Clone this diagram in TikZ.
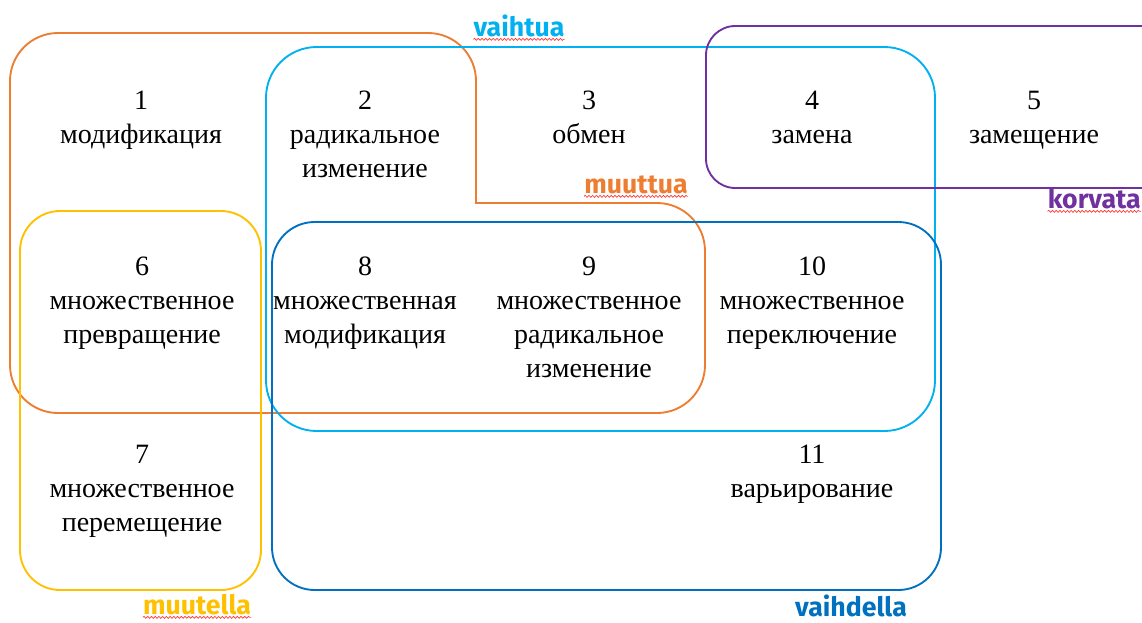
\documentclass[tikz,border=0pt]{standalone}
\usepackage{fontspec}
\setmainfont{Liberation Serif}
\newfontfamily\labelfont{Fira Sans}
\usetikzlibrary{decorations.pathmorphing}
\definecolor{corange}{HTML}{ED7D31}
\definecolor{ccyan}{HTML}{00B0F0}
\definecolor{cpurple}{HTML}{7030A0}
\definecolor{cyellow}{HTML}{FFC000}
\definecolor{cblue}{HTML}{0070C0}
\begin{document}
\begin{tikzpicture}[x=0.75pt,y=-0.75pt,
  term/.style={align=center, font=\fontsize{21}{25.5}\selectfont, anchor=north, inner sep=0pt},
  lab/.style={font=\labelfont\bfseries\fontsize{20}{22}\selectfont, anchor=base, inner sep=0pt},
  frame/.style={line width=1.4pt},
  wavy/.style={draw=red!80, line width=0.5pt, decorate, decoration={snake, amplitude=0.75pt, segment length=2.8pt}}]
\useasboundingbox (0,0) rectangle (1142,622);
\clip (0,0) rectangle (1142,622);
% frames
\draw[frame, corange, rounded corners=36, line cap=rect] (476,203) -- (705,203) -- (705,413) -- (10,413) -- (10,33) -- (476,33) -- (476,203);
\draw[frame, ccyan, rounded corners=38] (266,47) rectangle (935,431);
\draw[frame, cpurple, rounded corners=22] (706,26) rectangle (1200,188);
\draw[frame, cyellow, rounded corners=30] (20,211) rectangle (261,590);
\draw[frame, cblue, rounded corners=32] (272,222) rectangle (941,590);
% terms
\node[term] (n1) at (141,91) {1\\модификация};
\node[term] (n2) at (365,91) {2\\радикальное\\изменение};
\node[term] (n3) at (589,91) {3\\обмен};
\node[term] (n4) at (812,91) {4\\замена};
\node[term] (n5) at (1034,91) {5\\замещение};
\node[term] (n6) at (142,257) {6\\множественное\\превращение};
\node[term] (n8) at (365,257) {8\\множественная\\модификация};
\node[term] (n9) at (589,257) {9\\множественное\\радикальное\\изменение};
\node[term] (n10) at (812,257) {10\\множественное\\переключение};
\node[term] (n7) at (142,445) {7\\множественное\\перемещение};
\node[term] (n11) at (812,445) {11\\варьирование};
% labels
\node[lab, text=ccyan] (l1) at (519,36) {vaihtua};
\node[lab, text=corange] (l2) at (636,193) {muuttua};
\node[lab, text=cpurple, anchor=base east] (l3) at (1141,208) {korvata};
\node[lab, text=cyellow] (l4) at (197,614) {muutella};
\node[lab, text=cblue] (l5) at (851,616) {vaihdella};
\foreach \l in {l1,l2,l3,l4}{
  \draw[wavy] ([yshift=-2.5pt]\l.base west) -- ([yshift=-2.5pt]\l.base east);
}
\end{tikzpicture}
\end{document}
